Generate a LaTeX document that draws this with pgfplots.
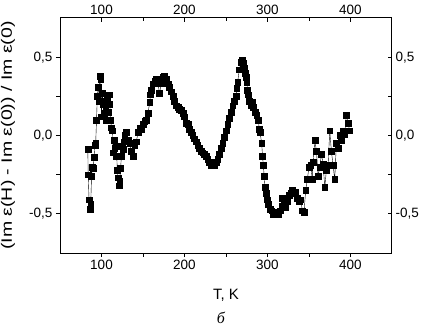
\documentclass[border=0pt]{standalone}
\usepackage{fontspec}
\setmainfont{Liberation Sans}
\newfontfamily\capfont{Liberation Serif}
\usepackage{graphicx}
\usepackage{pgfplots}
\pgfplotsset{compat=1.18}
\usepackage{pgfplotstable}
\pgfplotstableread{
T v
83.5 -0.09
84 -0.25
85 -0.41
86 -0.47
87 -0.44
88 -0.26
89 -0.20
90 -0.21
91 -0.14
92 -0.06
93 -0.05
94 0.10
95 0.25
96 0.31
97 0.22
98 0.38
99 0.36
100 0.12
101 0.27
102 0.20
103 0.14
104 0.22
105 0.17
106 0.10
107 0.24
108 0.15
109 0.26
110 0.20
111 0.10
112 0.05
113 0.03
114 -0.11
115 -0.03
116 -0.08
117 -0.13
118 -0.07
119 -0.22
120 -0.27
121 -0.32
122 -0.29
123 -0.21
124 -0.13
125 -0.07
126 -0.09
127 -0.04
128 0.00
130 0.02
132 -0.03
134 -0.05
136 -0.10
138 -0.13
140 -0.06
142 -0.04
144 0.02
146 0.05
148 0.04
150 0.07
152 0.09
154 0.10
156 0.14
158 0.21
159 0.26
160 0.29
162 0.33
164 0.35
166 0.36
168 0.33
170 0.27
172 0.33
174 0.37
176 0.38
178 0.36
180 0.33
182 0.31
184 0.28
186 0.25
188 0.22
190 0.19
192 0.18
194 0.17
196 0.16
198 0.14
200 0.12
202 0.08
204 0.07
206 0.04
208 0.02
210 0.00
212 -0.02
214 -0.04
216 -0.06
218 -0.08
220 -0.10
222 -0.11
224 -0.12
226 -0.13
228 -0.15
230 -0.17
232 -0.19
234 -0.18
236 -0.19
238 -0.17
240 -0.15
242 -0.12
244 -0.08
246 -0.05
248 -0.01
250 0.03
252 0.07
254 0.11
256 0.15
258 0.19
260 0.22
262 0.25
263 0.30
264 0.34
266 0.42
268 0.47
270 0.48
271 0.46
272 0.43
273 0.40
274 0.37
275 0.34
276 0.29
277 0.26
278 0.22
280 0.19
282 0.21
283 0.18
285 0.15
287 0.13
289 0.10
290 0.04
291 0.02
293 -0.05
294 -0.13
295 -0.19
296 -0.26
297 -0.33
298 -0.37
300 -0.41
301 -0.44
303 -0.47
305 -0.48
307 -0.50
309 -0.50
311 -0.49
313 -0.50
315 -0.48
317 -0.45
318 -0.40
320 -0.43
322 -0.46
324 -0.42
326 -0.38
328 -0.37
330 -0.35
332 -0.37
334 -0.36
336 -0.40
338 -0.42
340 -0.41
342 -0.48
344 -0.49
346 -0.35
348 -0.28
350 -0.20
352 -0.19
354 -0.28
355 -0.17
357 -0.03
359 -0.10
361 -0.26
363 -0.20
365 -0.12
367 -0.18
369 -0.33
371 -0.22
373 -0.19
375 0.03
377 -0.10
379 -0.19
381 -0.28
383 -0.05
385 -0.08
387 0.00
389 -0.03
391 0.03
393 0.01
395 0.13
397 0.08
399 0.03
}\datatable
\begin{document}
\begin{tikzpicture}
\path[use as bounding box] (-60bp,-74bp) rectangle (363bp,253bp);
\pgfplotsset{
  common/.style={
    scale only axis, width=332bp, height=235bp,
    xmin=50, xmax=450, ymin=-0.75, ymax=0.75,
    xtick={100,200,300,400}, ytick={-0.5,0,0.5},
    minor xtick={150,250,350}, minor ytick={-0.25,0.25},
    major tick length=4bp, minor tick length=3.5bp,
    axis line style={line width=1bp},
    every tick/.style={black, line width=0.9bp},
    tick label style={font=\fontsize{13.5bp}{15bp}\selectfont},
    /pgf/number format/assume math mode=true,
    yticklabel style={/pgf/number format/.cd, fixed, fixed zerofill, precision=1, use comma, assume math mode=true},
  }
}
\begin{axis}[common,
  at={(0,0)}, anchor=south west,
  tick align=outside,
  xtick pos=left, ytick pos=left,
  xticklabel pos=left, yticklabel pos=left,
]
\addplot[black, line width=0.4bp, mark=square*, mark size=2.9bp, mark options={solid, fill=black}] table[x=T, y=v] {\datatable};
\end{axis}
\begin{axis}[common,
  at={(0,0)}, anchor=south west,
  tick align=inside,
  xtick pos=right, ytick pos=right,
  xticklabel pos=right, yticklabel pos=right,
]
\end{axis}
\node[font=\fontsize{15bp}{18bp}\selectfont] at (166bp,-42bp) {T, K};
\node[font=\fontsize{16bp}{18bp}\selectfont\capfont\itshape] at (161bp,-65bp) {б};
\node[rotate=90, font=\fontsize{15bp}{18bp}\selectfont] at (-52bp,117.5bp) {\scalebox{1.3}[1]{(Im ε(H) - Im ε(0)) / Im ε(0)}};
\end{tikzpicture}
\end{document}
